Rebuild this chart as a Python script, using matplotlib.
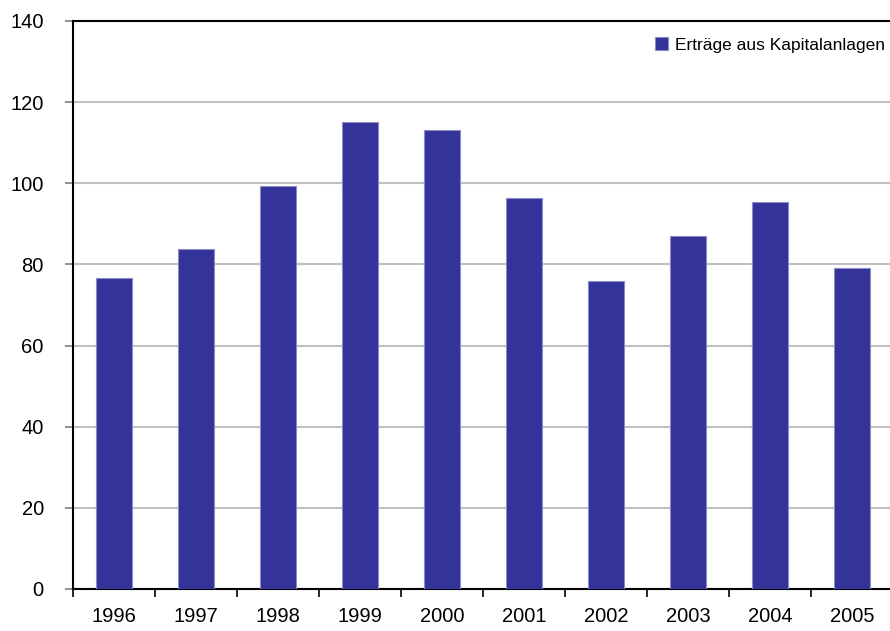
import numpy as np
import matplotlib.pyplot as plt

plt.rcParams['font.family'] = ['Liberation Sans', 'DejaVu Sans']

# Daten
jahre = ['1996', '1997', '1998', '1999', '2000', '2001', '2002', '2003', '2004', '2005']
ertraege = [76.6, 83.9, 99.3, 115.1, 113.1, 96.3, 76.0, 86.9, 95.3, 79.0]
y_ticks = [0, 20, 40, 60, 80, 100, 120, 140]

fig = plt.figure(figsize=(8.9, 6.31), dpi=100)
ax = fig.add_axes([73 / 890, 1 - 589 / 631, 820 / 890, 568 / 631])

x = np.arange(len(jahre))
bars = ax.bar(x, ertraege, width=0.44, color='#333399', edgecolor='#8c8cc8',
              linewidth=0.8, label='Erträge aus Kapitalanlagen', zorder=3)

ax.set_ylim(0, 140)
ax.set_xlim(-0.5, len(jahre) - 0.5)
ax.set_yticks(y_ticks)
ax.set_yticklabels([str(v) for v in y_ticks], fontsize=14.5)
ax.yaxis.grid(True, color='#c0c0c0', linewidth=1.5, zorder=0)
ax.set_axisbelow(True)

# x-Ticks an den Kategoriegrenzen, Labels in der Mitte
ax.set_xticks(np.arange(len(jahre) + 1) - 0.5)
ax.set_xticklabels([])
ax.set_xticks(x, minor=True)
ax.set_xticklabels(jahre, minor=True, fontsize=14.5)
ax.tick_params(axis='x', which='major', length=6, width=1.2, color='black', direction='out')
ax.tick_params(axis='x', which='minor', length=0, pad=13)
ax.tick_params(axis='y', length=6, width=1.2, color='#808080', direction='out', pad=15)

for side in ['left', 'bottom', 'top']:
    ax.spines[side].set_color('black')
    ax.spines[side].set_linewidth(1.5)
ax.spines['right'].set_visible(False)

fig.legend(handles=[bars], loc='center left', bbox_to_anchor=(648 / 890, 1 - 45 / 631),
           frameon=False, fontsize=12.5, handlelength=0.75, handleheight=0.75,
           handletextpad=0.4, borderaxespad=0)

fig.savefig('out.png', dpi=100)
